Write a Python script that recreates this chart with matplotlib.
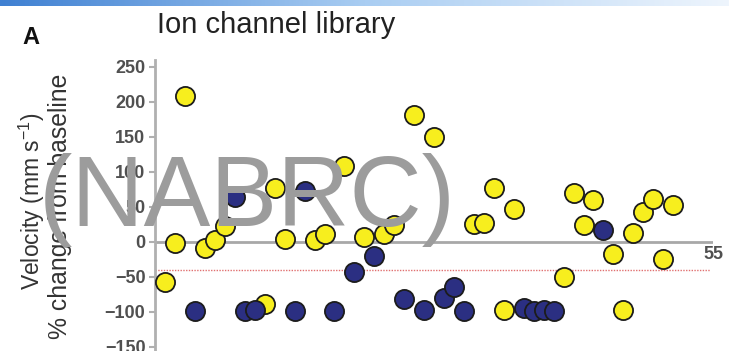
import numpy as np
import matplotlib
matplotlib.use('Agg')
import matplotlib.pyplot as plt
from matplotlib.colors import LinearSegmentedColormap

plt.rcParams['font.family'] = ['Liberation Sans', 'DejaVu Sans']

# channel index (left to right) and % change of velocity
channel = list(range(1, 53))
change = [-58, -2, 208, -99, -9, 2, 22, 64, -99, -98,
          -89, 77, 4, -99, 72, 3, 11, -99, 108, -44,
          7, -21, 11, 24, -82, 181, -97, 150, -81, -65,
          -99, 25, 27, 76, -98, 46, -95, -99, -98, -99,
          -50, 69, 24, 60, 16, -18, -97, 13, 42, 61,
          -25, 52]
# Y = yellow, B = blue
group = list('YYYBYYYBBBYYYBBYYBYBYBYYBYBYBBBYYYYYBBBBYYYYBYYYYYYY')
threshold = -41

colors = {'Y': '#f7ee1e', 'B': '#2b2f82'}

fig = plt.figure(figsize=(7.29, 3.51), dpi=100)

# blue gradient strip at the top
bar = fig.add_axes([0, 1 - 6 / 351, 1, 6 / 351])
cmap = LinearSegmentedColormap.from_list('bar', ['#3f80d2', '#a9cdf2', '#eef5fd'])
bar.imshow(np.linspace(0, 1, 256)[None, :], aspect='auto', cmap=cmap)
bar.axis('off')

ax = fig.add_axes([155.2 / 729, -0.0077, (713 - 155.2) / 729, 0.8377])
ax.set_xlim(0, 56)
ax.set_ylim(-160, 260)

ax.axhline(0, color='#a8a8a8', lw=2.0, zorder=1)
ax.axhline(threshold, xmax=0.995, color='#e07070', lw=1.0, ls=(0, (1, 1)), zorder=1)

for g in ['Y', 'B']:
    xs = [c for c, gg in zip(channel, group) if gg == g]
    ys = [v for v, gg in zip(change, group) if gg == g]
    ax.scatter(xs, ys, s=190, c=colors[g], edgecolors='#1c1c1c', linewidths=1.3, zorder=3)

for side in ['top', 'right', 'bottom']:
    ax.spines[side].set_visible(False)
ax.spines['left'].set_color('#b0b0b0')
ax.spines['left'].set_linewidth(2)
ax.set_xticks([])
ax.set_yticks(range(-150, 251, 50))
ax.tick_params(axis='y', colors='#b0b0b0', length=4, width=1.5, pad=3)
for lab in ax.get_yticklabels():
    lab.set_color('#505050')
    lab.set_fontweight('bold')
    lab.set_fontsize(13)

ax.text(56, -19, '55', ha='center', va='center', fontsize=13,
        fontweight='bold', color='#505050')

fig.text(32 / 729, 1 - 201 / 351, 'Velocity (mm s$^{\\mathregular{-1}}$)', rotation=90,
         ha='center', va='center', fontsize=16.5, color='#333333')
fig.text(60 / 729, 1 - 206 / 351, '% change from baseline', rotation=90,
         ha='center', va='center', fontsize=17.8, color='#333333')

fig.text(157 / 729, 1 - 33 / 351, 'Ion channel library', ha='left', va='baseline',
         fontsize=21, color='#222222')
fig.text(22 / 729, 1 - 44 / 351, 'A', ha='left', va='baseline', fontsize=17,
         fontweight='bold', color='#111111')

# watermark over the plot
fig.text(247 / 729, 1 - 200 / 351, '(NABRC)', ha='center', va='center',
         fontsize=72, color='#9c9c9c', zorder=10)

fig.savefig('out.png', dpi=100)
